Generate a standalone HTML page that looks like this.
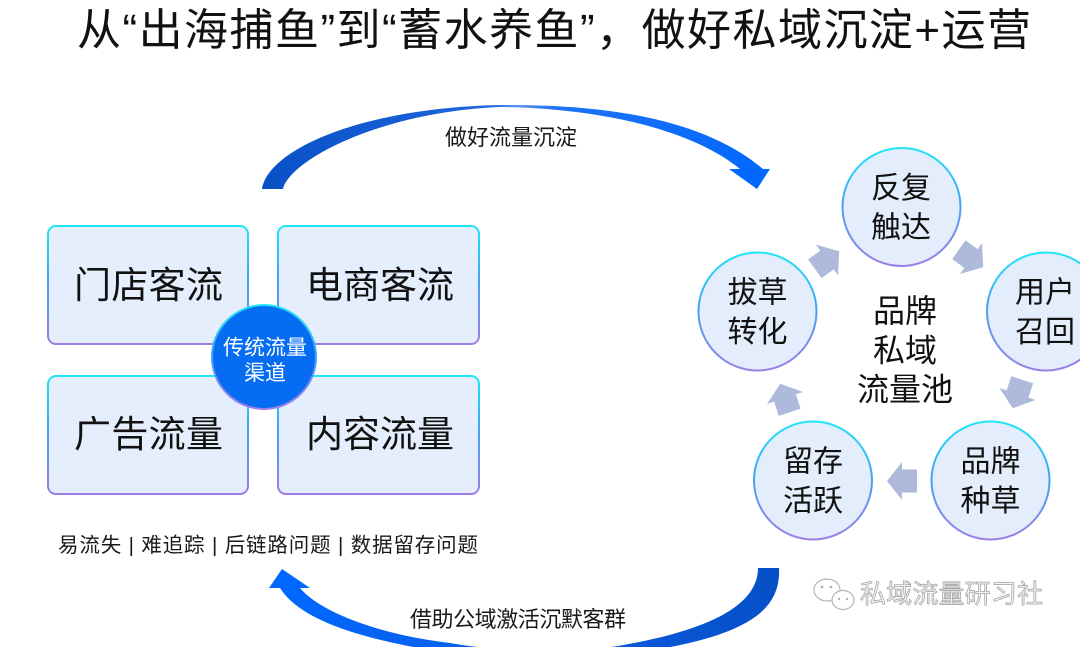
<!DOCTYPE html>
<html>
<head>
<meta charset="utf-8">
<style>
  html, body { margin:0; padding:0; background:#ffffff; }
  body { width:1080px; height:647px; overflow:hidden; }
  svg { display:block; }
  text { font-family: "Liberation Sans", "Noto Sans CJK SC", sans-serif; }
</style>
</head>
<body>
<svg width="1080" height="647" viewBox="0 0 1080 647" xmlns="http://www.w3.org/2000/svg">
  <defs>
    <linearGradient id="bord" x1="0" y1="0" x2="0" y2="1">
      <stop offset="0" stop-color="#1fe6f6"/>
      <stop offset="0.45" stop-color="#3ea4f6"/>
      <stop offset="1" stop-color="#9c7ee6"/>
    </linearGradient>
    <linearGradient id="topArc" gradientUnits="userSpaceOnUse" x1="262" y1="0" x2="770" y2="0">
      <stop offset="0" stop-color="#0850c6"/>
      <stop offset="0.45" stop-color="#1f66dc"/>
      <stop offset="0.5" stop-color="#5b95ee"/>
      <stop offset="0.58" stop-color="#1f72f4"/>
      <stop offset="1" stop-color="#0068ff"/>
    </linearGradient>
    <linearGradient id="botArc" gradientUnits="userSpaceOnUse" x1="270" y1="0" x2="780" y2="0">
      <stop offset="0" stop-color="#0068ff"/>
      <stop offset="0.5" stop-color="#0a5ee8"/>
      <stop offset="1" stop-color="#0650c6"/>
    </linearGradient>
  </defs>

  <!-- Title -->
  <text x="77" y="45" font-size="44" fill="#111" textLength="954" lengthAdjust="spacing">从“出海捕鱼”到“蓄水养鱼”，做好私域沉淀+运营</text>

  <!-- Top arc -->
  <path d="M262,189 C268,150 360,108 500,105 C610,104 705,120 763,169 L740,169 C690,128 595,108 500,107 C380,112 290,160 283,189 Z" fill="url(#topArc)"/>
  <polygon points="729,169 770,169 757,189" fill="#0068ff"/>
  <text x="445" y="145" font-size="22" fill="#1a1a1a" textLength="132" lengthAdjust="spacing">做好流量沉淀</text>

  <!-- Left boxes -->
  <rect x="48" y="226" width="200" height="118" rx="8" ry="8" fill="#e5eefc" stroke="url(#bord)" stroke-width="2"/>
  <rect x="278" y="226" width="201" height="118" rx="8" ry="8" fill="#e5eefc" stroke="url(#bord)" stroke-width="2"/>
  <rect x="48" y="376" width="200" height="118" rx="8" ry="8" fill="#e5eefc" stroke="url(#bord)" stroke-width="2"/>
  <rect x="278" y="376" width="201" height="118" rx="8" ry="8" fill="#e5eefc" stroke="url(#bord)" stroke-width="2"/>

  <text x="74" y="298" font-size="37" fill="#111" textLength="149" lengthAdjust="spacing">门店客流</text>
  <text x="306" y="298" font-size="37" fill="#111" textLength="148" lengthAdjust="spacing">电商客流</text>
  <text x="74" y="447" font-size="37" fill="#111" textLength="149" lengthAdjust="spacing">广告流量</text>
  <text x="306" y="447" font-size="37" fill="#111" textLength="148" lengthAdjust="spacing">内容流量</text>

  <!-- Center circle left -->
  <circle cx="264" cy="357" r="52" fill="#066cf2" stroke="url(#bord)" stroke-width="2"/>
  <text x="223" y="354.5" font-size="21" fill="#ffffff" textLength="84" lengthAdjust="spacing">传统流量</text>
  <text x="265" y="380" font-size="21" fill="#ffffff" text-anchor="middle">渠道</text>

  <!-- Bottom left text -->
  <text x="58" y="552" font-size="20.5" fill="#1a1a1a" textLength="420" lengthAdjust="spacing">易流失 | 难追踪 | 后链路问题 | 数据留存问题</text>

  <!-- Bottom arc -->
  <path d="M779,568 C781,610 750,640 610,656 C560,664 480,662 430,650 C360,638 300,620 280,588 L300,588 C320,612 380,635 450,643 C500,652 560,652 605,648 C710,632 758,605 758,568 Z" fill="url(#botArc)"/>
  <polygon points="282,569 269,588 310,588" fill="#0068ff"/>
  <text x="410" y="627" font-size="22" fill="#1a1a1a" textLength="216" lengthAdjust="spacing">借助公域激活沉默客群</text>

  <!-- Right cycle circles -->
  <circle cx="901.5" cy="207" r="59" fill="#e3edfb" stroke="url(#bord)" stroke-width="2"/>
  <circle cx="1046" cy="311.5" r="59" fill="#e3edfb" stroke="url(#bord)" stroke-width="2"/>
  <circle cx="757.5" cy="311.5" r="59" fill="#e3edfb" stroke="url(#bord)" stroke-width="2"/>
  <circle cx="990.5" cy="480.5" r="59" fill="#e3edfb" stroke="url(#bord)" stroke-width="2"/>
  <circle cx="813" cy="480.5" r="59" fill="#e3edfb" stroke="url(#bord)" stroke-width="2"/>

  <g font-size="30" fill="#111" text-anchor="middle">
    <text x="901" y="198">反复</text>
    <text x="901" y="237.5">触达</text>
    <text x="1045" y="302.5">用户</text>
    <text x="1045" y="342">召回</text>
    <text x="757.5" y="302.5">拔草</text>
    <text x="757.5" y="342">转化</text>
    <text x="990.5" y="471.5">品牌</text>
    <text x="990.5" y="511">种草</text>
    <text x="813" y="471.5">留存</text>
    <text x="813" y="511">活跃</text>
  </g>

  <!-- Center text -->
  <g font-size="32" fill="#111" text-anchor="middle">
    <text x="905" y="322">品牌</text>
    <text x="905" y="361.5">私域</text>
    <text x="905" y="400.5">流量池</text>
  </g>

  <!-- Block arrows -->
  <g fill="#adbadb">
    <polygon transform="translate(971,258.5) rotate(35.6)" points="-15,-11.5 0,-11.5 0,-19 15,0 0,19 0,11.5 -15,11.5"/>
    <polygon transform="translate(1017.5,394) rotate(108.3)" points="-15,-11.5 0,-11.5 0,-19 15,0 0,19 0,11.5 -15,11.5"/>
    <polygon transform="translate(902,481) rotate(180)" points="-15,-11.5 0,-11.5 0,-19 15,0 0,19 0,11.5 -15,11.5"/>
    <polygon transform="translate(785,398) rotate(-108.3)" points="-15,-11.5 0,-11.5 0,-19 15,0 0,19 0,11.5 -15,11.5"/>
    <polygon transform="translate(827,260) rotate(-35.8)" points="-15,-11.5 0,-11.5 0,-19 15,0 0,19 0,11.5 -15,11.5"/>
  </g>

  <!-- Watermark -->
  <g stroke="#b4b4b4" stroke-width="1.2" fill="#ffffff">
    <ellipse cx="827" cy="590" rx="13" ry="11"/>
    <ellipse cx="843" cy="600" rx="11" ry="9.5"/>
  </g>
  <g fill="#b4b4b4">
    <circle cx="822" cy="587" r="1.4"/>
    <circle cx="831" cy="587" r="1.4"/>
    <circle cx="839" cy="599" r="1.2"/>
    <circle cx="847" cy="599" r="1.2"/>
  </g>
  <text x="860" y="603" font-size="26" fill="#f3f3f3" stroke="#9e9e9e" stroke-width="0.7" textLength="183" lengthAdjust="spacing">私域流量研习社</text>
</svg>
</body>
</html>
